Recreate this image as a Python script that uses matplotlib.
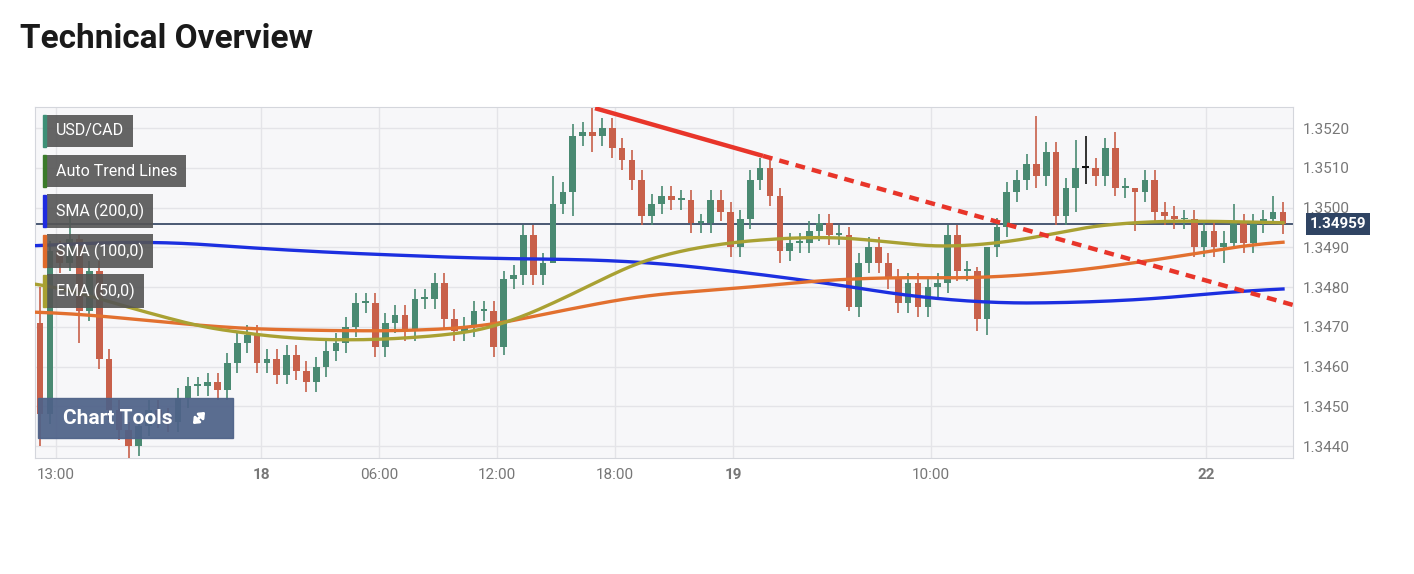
import numpy as np
import matplotlib.pyplot as plt
from matplotlib.patches import Rectangle, FancyArrowPatch

# 30-minute closes, USD/CAD
first_open = 1.3471
closes = [
    1.3448, 1.3489, 1.3486, 1.3492, 1.3474, 1.3484, 1.3462, 1.3449, 1.3444, 1.3440,
    1.3445, 1.3449, 1.3447, 1.3446, 1.3452, 1.3455, 1.3455, 1.3456, 1.3454, 1.3461,
    1.3466, 1.3468, 1.3461, 1.3462, 1.3458, 1.3463, 1.3459, 1.3456, 1.3460, 1.3464,
    1.3466, 1.3470, 1.3476, 1.3476, 1.3465, 1.3471, 1.3473, 1.3469, 1.3477, 1.3477,
    1.3481, 1.3472, 1.3469, 1.3470, 1.3474, 1.3474, 1.3465, 1.3482, 1.3483, 1.3493,
    1.3483, 1.3486, 1.3501, 1.3504, 1.3518, 1.3519, 1.3518, 1.3520, 1.3515, 1.3512,
    1.3507, 1.3498, 1.3501, 1.3503, 1.3502, 1.3502, 1.3496, 1.3496, 1.3502, 1.3499,
    1.3490, 1.3497, 1.3507, 1.3510, 1.3503, 1.3489, 1.3491, 1.3491, 1.3494, 1.3496,
    1.3493, 1.3493, 1.3475, 1.3486, 1.3490, 1.3486, 1.3482, 1.3476, 1.3481, 1.3475,
    1.3480, 1.3481, 1.3493, 1.3484, 1.3484, 1.3472, 1.3490, 1.3495, 1.3504, 1.3507,
    1.3511, 1.3508, 1.3514, 1.3498, 1.3505, 1.3510, 1.3510, 1.3508, 1.3515, 1.3505,
    1.3505, 1.3504, 1.3507, 1.3499, 1.3498, 1.3497, 1.3497, 1.3490, 1.3494, 1.3490,
    1.3491, 1.3496, 1.3491, 1.3496, 1.3497, 1.3499, 1.34959,
]
# notable wick extremes (candle index -> (high, low))
wick_overrides = {
    0: (1.3480, 1.3440), 3: (1.3498, 1.3484), 4: (1.3493, 1.3466), 9: (1.3446, 1.3437),
    47: (1.3484, 1.3463), 52: (1.3508, 1.3492), 54: (1.3521, 1.3498),
    56: (1.3525, 1.3514), 75: (1.3505, 1.3486), 82: (1.3495, 1.3474),
    95: (1.3485, 1.3469), 96: (1.3490, 1.3468), 101: (1.3523, 1.3505),
    105: (1.3517, 1.3499), 106: (1.3518, 1.3506), 109: (1.3519, 1.3503),
    111: (1.3505, 1.3494), 120: (1.3494, 1.3486), 121: (1.3501, 1.3490),
    125: (1.3503, 1.3496),
}

# moving averages: (pixel x, price)
sma200 = [(35, 1.3490), (130, 1.3492), (300, 1.3489), (500, 1.3487), (620, 1.3487),
          (700, 1.3485), (800, 1.3482), (880, 1.3479), (950, 1.3476), (1000, 1.3476),
          (1100, 1.3476), (1200, 1.3478), (1283, 1.3480)]
sma100 = [(35, 1.3474), (100, 1.3473), (200, 1.3470), (300, 1.3469), (450, 1.3469),
          (520, 1.3471), (600, 1.3477), (700, 1.3479), (800, 1.3481), (870, 1.3483),
          (950, 1.3482), (1000, 1.3482), (1060, 1.3484), (1150, 1.3486), (1200, 1.3489),
          (1283, 1.3492)]
ema50 = [(35, 1.3482), (100, 1.3478), (150, 1.3472), (250, 1.3468), (330, 1.3466),
         (400, 1.3467), (500, 1.3469), (540, 1.3472), (580, 1.3480), (620, 1.3486),
         (680, 1.3490), (740, 1.3491), (780, 1.3493), (850, 1.3493), (900, 1.3491),
         (960, 1.3489), (990, 1.3489), (1030, 1.3493), (1100, 1.3496), (1170, 1.3497),
         (1283, 1.3496)]
trend_solid = [(595, 1.3525), (763, 1.3513)]
trend_dash = [(763, 1.3513), (1293, 1.34755)]

last_price = 1.34959
y_ticks = [1.3440, 1.3450, 1.3460, 1.3470, 1.3480, 1.3490, 1.3500, 1.3510, 1.3520]
x_tick_px = [56, 261, 379, 497, 615, 733, 931, 1206]
x_tick_labels = ["13:00", "18", "06:00", "12:00", "18:00", "19", "10:00", "22"]
bold_ticks = {"18", "19", "22"}
legend_items = [("USD/CAD", "#3d8f76"), ("Auto Trend Lines", "#3a7a2a"),
                ("SMA (200,0)", "#1f2be0"), ("SMA (100,0)", "#e06a2a"),
                ("EMA (50,0)", "#a8a032")]


def px_to_hour(px):
    return 13 + (np.asarray(px, dtype=float) - 56) / 19.67


def smooth_line(points):
    px = np.array([p for p, _ in points], dtype=float)
    val = np.array([v for _, v in points])
    grid = np.linspace(px[0], px[-1], 400)
    y = np.interp(grid, px, val)
    k = 25
    pad = np.concatenate([np.full(k, y[0]), y, np.full(k, y[-1])])
    y = np.convolve(pad, np.ones(2 * k + 1) / (2 * k + 1), mode="same")[k:-k]
    return px_to_hour(grid), y


GREEN = "#4a8a72"
RED = "#c8604a"

fig = plt.figure(figsize=(14.14, 5.74), dpi=100)
fig.text(20 / 1414, 1 - 39 / 574, "Technical Overview", fontsize=24, fontweight="bold",
         va="center", ha="left", color="#1a1a1a", family="Roboto")

ax = fig.add_axes([35 / 1414, 1 - 458 / 574, 1258 / 1414, 351 / 574])
ax.set_facecolor("#f7f7f9")
ax.set_xlim(px_to_hour(35), px_to_hour(1293))
ax.set_ylim(1.34370, 1.35253)

n = len(closes)
xs = np.linspace(px_to_hour(40), px_to_hour(1283), n)
opens = [first_open] + closes[:-1]
w = 0.34
for i, (x, o, c) in enumerate(zip(xs, opens, closes)):
    hi, lo = wick_overrides.get(i, (max(o, c) + 0.00025, min(o, c) - 0.00025))
    col = GREEN if c >= o else RED
    if i == 106:
        col = "#111111"
    ax.vlines(x, lo, hi, color=col, lw=1.2, zorder=3)
    body = max(abs(c - o), 0.00005)
    ax.add_patch(Rectangle((x - w / 2, min(o, c)), w, body, color=col, zorder=4, lw=0))

for pts, col in [(sma200, "#1c2fe0"), (sma100, "#e2702f"), (ema50, "#a9a133")]:
    hx, hy = smooth_line(pts)
    ax.plot(hx, hy, color=col, lw=2.4, zorder=5)

ax.plot(px_to_hour([p for p, _ in trend_solid]), [v for _, v in trend_solid],
        color="#e8352a", lw=3.2, zorder=6, solid_capstyle="butt")
ax.plot(px_to_hour([p for p, _ in trend_dash]), [v for _, v in trend_dash],
        color="#e8352a", lw=3.2, ls=(0, (2.2, 1.6)), zorder=6)

ax.axhline(last_price, color="#2c3e5c", lw=1.2, zorder=2)

ax.set_yticks(y_ticks)
ax.set_xticks(px_to_hour(x_tick_px))
ax.grid(True, color="#e4e4e8", lw=1)
ax.yaxis.tick_right()
ax.set_yticklabels([f"{v:.4f}" for v in y_ticks], color="#777777", fontsize=11,
                   family="Roboto")
ax.set_xticklabels(x_tick_labels, color="#777777", fontsize=11, family="Roboto")
for t in ax.get_xticklabels():
    if t.get_text() in bold_ticks:
        t.set_fontweight("bold")
ax.tick_params(length=0, pad=7)
for s in ax.spines.values():
    s.set_color("#d4d6dc")

# price tag
ax.annotate(f"{last_price:.5f}", xy=(1.0, last_price), xycoords=("axes fraction", "data"),
            xytext=(12, 0), textcoords="offset points", va="center", ha="left",
            fontsize=11, fontweight="bold", color="white", family="Roboto",
            bbox=dict(boxstyle="square,pad=0.25", fc="#2f4463", ec="none"))

# legend boxes
for k, (label, col) in enumerate(legend_items):
    ytop = 115 + k * 40
    fig.text(56 / 1414, 1 - (ytop + 16) / 574, label, fontsize=11.5, color="white",
             va="center", ha="left", family="Roboto",
             bbox=dict(boxstyle="square,pad=0.55", fc="#555555", ec="none", alpha=0.9))
    fig.patches.append(Rectangle((43 / 1414, 1 - (ytop + 32) / 574), 3 / 1414, 32 / 574,
                                 transform=fig.transFigure, color=col, zorder=10))

fig.patches.append(Rectangle((38 / 1414, 1 - 438 / 574), 195 / 1414, 40 / 574,
                             transform=fig.transFigure, color="#4e6288", alpha=0.93,
                             zorder=10))
fig.text(63 / 1414, 1 - 418 / 574, "Chart Tools", fontsize=15, fontweight="bold",
         color="white", va="center", ha="left", family="Roboto", zorder=11)
fig.patches.append(FancyArrowPatch((191 / 1414, 1 - 426 / 574), (207 / 1414, 1 - 410 / 574),
                                   transform=fig.transFigure, arrowstyle="<|-|>,head_length=3,head_width=2.5",
                                   color="white", lw=2, zorder=12))

fig.savefig("out.png", dpi=100)
